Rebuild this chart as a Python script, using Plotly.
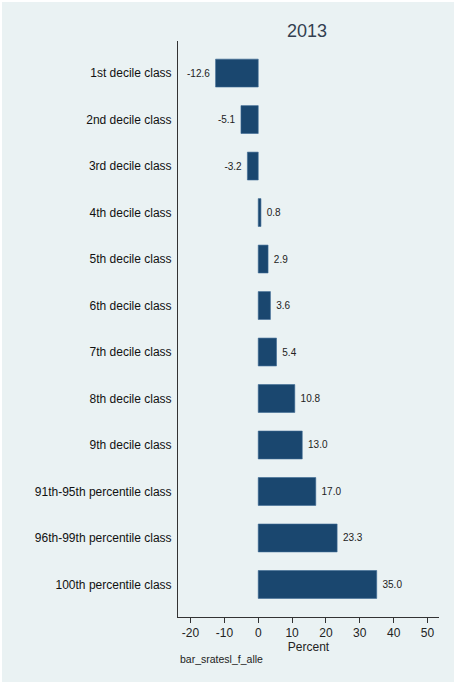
import plotly.graph_objects as go

categories = ["1st decile class", "2nd decile class", "3rd decile class", "4th decile class",
              "5th decile class", "6th decile class", "7th decile class", "8th decile class",
              "9th decile class", "91th-95th percentile class", "96th-99th percentile class",
              "100th percentile class"]
values = [-12.6, -5.1, -3.2, 0.8, 2.9, 3.6, 5.4, 10.8, 13.0, 17.0, 23.3, 35.0]
x_ticks = [-20, -10, 0, 10, 20, 30, 40, 50]

W, H = 454, 682
L, R, T, B = 178, 15, 41, 65
pw, ph = W - L - R, H - T - B

def px_x(p):
    return (p - L) / pw

def px_y(p):
    return (H - B - p) / ph

FONT = "Arial, Liberation Sans, sans-serif"
idx = list(range(len(categories)))
NB = "\u00a0"
labels = [(f"{v:.1f}{NB}" if v < 0 else f"{NB}{v:.1f}") for v in values]

fig = go.Figure(go.Bar(
    x=values, y=idx, orientation="h", width=0.6,
    marker=dict(color="#1A476F", line=dict(color="#3d6a93", width=0.6)),
    text=labels, textposition="outside",
    textfont=dict(size=10, color="#222222", family=FONT),
    cliponaxis=False,
))

fig.update_layout(
    width=W, height=H,
    margin=dict(l=L, r=R, t=T, b=B),
    paper_bgcolor="white", plot_bgcolor="white",
    showlegend=False,
    font=dict(family=FONT, color="#222222"),
    title=dict(text="2013", xref="container", x=307 / W, xanchor="center",
               yref="container", y=1 - 37 / H, yanchor="bottom",
               font=dict(size=18, color="#333f50", family=FONT)),
    shapes=[dict(type="rect", xref="paper", yref="paper", layer="below",
                 x0=px_x(2), x1=px_x(W), y0=px_y(H), y1=px_y(2),
                 fillcolor="#EAF2F3", line=dict(width=0))],
    annotations=[dict(text="bar_sratesl_f_alle", xref="paper", yref="paper",
                      x=px_x(178), y=px_y(659), xanchor="left", yanchor="middle",
                      showarrow=False, font=dict(size=10.5, color="#222222", family=FONT))],
)

fig.update_xaxes(
    range=[-23.7, 53.4], tickvals=x_ticks, ticktext=[str(t) for t in x_ticks],
    showgrid=True, gridcolor="#EAF2F3", gridwidth=1, zeroline=False,
    showline=True, linecolor="#333333", linewidth=1,
    ticks="outside", ticklen=5, tickcolor="#333333",
    tickfont=dict(size=12, color="#222222", family=FONT),
    title=dict(text="Percent", standoff=2, font=dict(size=12, color="#222222", family=FONT)),
)
fig.update_yaxes(
    range=[11.70, -0.69], tickvals=idx, ticktext=categories,
    showgrid=False, zeroline=False,
    showline=True, linecolor="#333333", linewidth=1,
    ticks="", ticklabelstandoff=3,
    tickfont=dict(size=12, color="#111111", family=FONT),
)

fig.write_html("out.html", config={"displayModeBar": False},
               post_script="document.body.style.margin='0';document.body.style.overflow='hidden';")
